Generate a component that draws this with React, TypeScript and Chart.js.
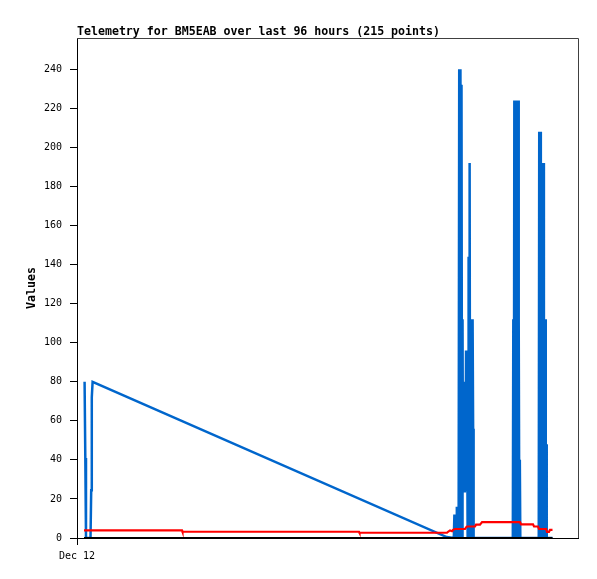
import React, { useEffect, useRef } from "react";
import { Chart, registerables } from "chart.js";

Chart.register(...registerables);

const titleText = "Telemetry for BM5EAB over last 96 hours (215 points)";
const yAxisLabel = "Values";
const xTickLabel = "Dec 12";
const xMin = 0;
const xMax = 103;
const yMin = 0;
const yMax = 256;
const yTicks = [0, 20, 40, 60, 80, 100, 120, 140, 160, 180, 200, 220, 240];

// hours since Dec 12 00:00
const blueHours = [
  1.56, 1.71, 1.85, 2.78, 2.92, 3.04, 3.21, 76.01,
  77.47, 77.59, 77.72, 77.84, 77.96, 78.09, 78.21, 78.29, 78.37, 78.46, 78.58, 78.7,
  78.83, 78.95, 79.05, 79.16, 79.26, 79.36, 79.48, 79.61, 79.73, 79.86, 79.98, 80.1,
  80.2, 80.31, 80.41, 80.51, 80.62, 80.72, 80.82, 80.92, 81.03, 81.13, 81.23, 81.33,
  81.44, 81.54,
  89.6, 89.7, 89.81, 89.91, 90.01, 90.11, 90.22, 90.34, 90.44, 90.57, 90.67, 90.77,
  90.85, 90.94, 91.04, 91.14, 91.25,
  94.93, 95.03, 95.13, 95.25, 95.36, 95.48, 95.58, 95.69, 95.79, 95.89, 95.99, 96.1,
  96.2, 96.28, 96.37, 96.45, 96.53, 96.61, 97.76,
];
const blueValues = [
  80, 41, 0, 0, 24.5, 72, 80, 0.5,
  0, 12, 0, 12, 0, 16, 0, 16, 8, 0, 240, 0,
  240, 0, 232, 0, 112, 24, 80, 24, 72, 24, 96, 24,
  72, 0, 72, 144, 0, 192, 0, 112, 0, 112, 0, 112,
  56, 0,
  0, 112, 0, 224, 0, 224, 0, 208, 0, 224, 0, 224,
  112, 0, 40, 0, 0,
  0, 208, 0, 208, 0, 156, 0, 192, 0, 192, 0, 112,
  0, 112, 48, 0, 48, 0, 0,
];

const redHours = [
  1.44, 21.59, 21.69, 57.98, 58.08, 76.07, 76.28, 76.69, 77.1, 77.31, 77.72,
  79.77, 79.98, 80.18, 81.83, 82.03, 82.85, 83.06, 83.27, 91.08, 91.29, 93.75,
  93.96, 94.78, 94.99, 96.43, 96.63, 97.04, 97.25, 97.76,
];
const redValues = [
  3.9, 3.9, 3.2, 3.2, 2.7, 2.7, 3.2, 3.9, 3.5, 4.2, 4.6,
  4.6, 5.4, 5.9, 5.9, 6.8, 6.8, 7.5, 8.1, 8.1, 7.0, 7.0,
  5.9, 5.9, 4.6, 4.6, 3.1, 3.1, 4.2, 4.2,
];

const blackHours = [1.44, 97.76];
const blackValues = [0, 0];

const toPoints = (xs: number[], ys: number[]) => xs.map((x, i) => ({ x, y: ys[i] }));

const framePlugin = {
  id: "frame",
  afterDraw(chart: any) {
    const { ctx, chartArea } = chart;
    ctx.save();
    ctx.strokeStyle = "#404040";
    ctx.lineWidth = 1;
    ctx.beginPath();
    ctx.moveTo(chartArea.left, chartArea.top + 0.5);
    ctx.lineTo(chartArea.right + 0.5, chartArea.top + 0.5);
    ctx.lineTo(chartArea.right + 0.5, chartArea.bottom);
    ctx.stroke();

    ctx.fillStyle = "#000";
    ctx.font = "bold 11.6px 'DejaVu Sans Mono'";
    ctx.textAlign = "left";
    ctx.textBaseline = "alphabetic";
    ctx.fillText(titleText, chartArea.left, 35);

    ctx.translate(32, (chartArea.top + chartArea.bottom) / 2);
    ctx.rotate(-Math.PI / 2);
    ctx.textAlign = "center";
    ctx.textBaseline = "middle";
    ctx.fillText(yAxisLabel, 0, 0);
    ctx.restore();
  },
};

export default function App() {
  const ref = useRef<HTMLCanvasElement>(null);
  useEffect(() => {
    if (!ref.current) return;
    const chart = new Chart(ref.current, {
      type: "line",
      data: {
        datasets: [
          {
            data: toPoints(blueHours, blueValues),
            borderColor: "#0066cc",
            borderWidth: 2.5,
            pointRadius: 0,
            tension: 0,
            order: 3,
          },
          {
            data: toPoints(redHours, redValues),
            borderColor: "#ff0000",
            borderWidth: 2.2,
            pointRadius: 0,
            tension: 0,
            order: 2,
          },
          {
            data: toPoints(blackHours, blackValues),
            borderColor: "#000000",
            borderWidth: 2.2,
            pointRadius: 0,
            tension: 0,
            order: 1,
          },
        ],
      },
      options: {
        responsive: false,
        animation: false,
        events: [],
        layout: { padding: { top: 38, right: 19, left: 0, bottom: 0 } },
        plugins: { legend: { display: false }, tooltip: { enabled: false }, title: { display: false } },
        scales: {
          x: {
            type: "linear",
            min: xMin,
            max: xMax,
            afterBuildTicks: (scale: any) => {
              scale.ticks = [{ value: xMin }];
            },
            afterFit: (scale: any) => {
              scale.height = 41;
            },
            ticks: {
              callback: () => xTickLabel,
              color: "#000",
              font: { family: "'DejaVu Sans Mono'", size: 10 },
              padding: 5,
              maxRotation: 0,
            },
            grid: { drawOnChartArea: false, drawTicks: true, tickLength: 7, color: "#000" },
            border: { display: true, color: "#000", width: 1 },
          },
          y: {
            type: "linear",
            min: yMin,
            max: yMax,
            afterBuildTicks: (scale: any) => {
              scale.ticks = yTicks.map((v) => ({ value: v }));
            },
            afterFit: (scale: any) => {
              scale.width = 77;
            },
            ticks: {
              color: "#000",
              font: { family: "'DejaVu Sans Mono'", size: 10 },
              padding: 8,
            },
            grid: { drawOnChartArea: false, drawTicks: true, tickLength: 7, color: "#000" },
            border: { display: true, color: "#000", width: 1 },
          },
        },
      },
      plugins: [framePlugin],
    });
    return () => chart.destroy();
  }, []);
  return (
    <div style={{ position: "absolute", left: 0, top: 0, width: 597, height: 579, background: "#fff" }}>
      <canvas ref={ref} width={597} height={579} style={{ display: "block" }} />
    </div>
  );
}
